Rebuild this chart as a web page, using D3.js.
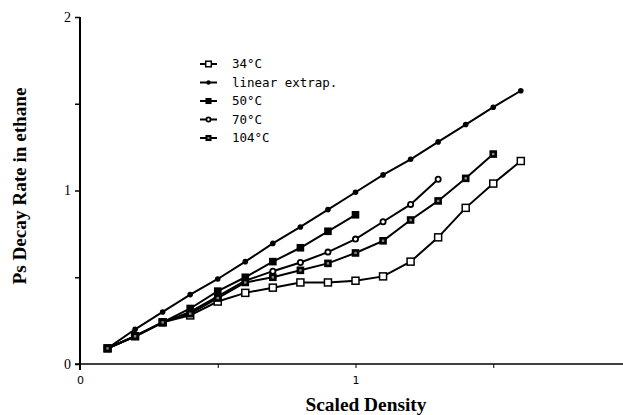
<!DOCTYPE html>
<html>
<head>
<meta charset="utf-8">
<script src="https://cdn.jsdelivr.net/npm/d3@7"></script>
<style>
  body { margin: 0; background: #fff; }
  svg { display: block; }
</style>
</head>
<body>
<svg id="chart"></svg>
<script>
const density = [0.1, 0.2, 0.3, 0.4, 0.5, 0.6, 0.7, 0.8, 0.9, 1.0, 1.1, 1.2, 1.3, 1.4, 1.5, 1.6];

const t34 = [0.09, 0.16, 0.24, 0.28, 0.36, 0.41, 0.44, 0.47, 0.47, 0.48, 0.505, 0.59, 0.73, 0.90, 1.04, 1.17];
const linearExtrap = [0.09, 0.20, 0.30, 0.40, 0.49, 0.59, 0.695, 0.79, 0.89, 0.99, 1.09, 1.18, 1.28, 1.38, 1.48, 1.575];
const t50 = [0.09, 0.16, 0.24, 0.32, 0.42, 0.50, 0.59, 0.67, 0.765, 0.86];
const t70 = [0.09, 0.16, 0.24, 0.30, 0.39, 0.48, 0.535, 0.585, 0.645, 0.72, 0.82, 0.92, 1.065];
const t104 = [0.09, 0.16, 0.24, 0.29, 0.38, 0.47, 0.50, 0.54, 0.58, 0.64, 0.71, 0.83, 0.94, 1.07, 1.21];

const seriesNames = ["34°C", "linear extrap.", "50°C", "70°C", "104°C"];
const yTicks = [0, 1, 2];
const xTickLabels = [0, 1];

const series = [
    {name: seriesNames[0], values: t34, marker: "open"},
    {name: seriesNames[1], values: linearExtrap, marker: "dot"},
    {name: seriesNames[2], values: t50, marker: "square"},
    {name: seriesNames[3], values: t70, marker: "ring"},
    {name: seriesNames[4], values: t104, marker: "dotsquare"}
];

const width = 623, height = 415;

const svg = d3.select("#chart")
    .attr("width", width)
    .attr("height", height);

const x = d3.scaleLinear().domain([0, 2]).range([80, 631]);
const y = d3.scaleLinear().domain([0, 2]).range([364, 17]);

// axes
const xAxis = svg.append("g")
    .attr("transform", `translate(0,${y(0)})`)
    .call(d3.axisBottom(x).tickValues([0, 0.5, 1, 1.5]).tickSize(4).tickSizeOuter(0)
        .tickFormat(d => xTickLabels.includes(d) ? d : ""));
xAxis.select(".domain").attr("stroke-width", 1.5).attr("d", `M75,0H${width}`);
xAxis.selectAll("text")
    .attr("dy", "1.2em")
    .style("font-family", "DejaVu Sans, sans-serif")
    .style("font-size", "11px");

const yAxis = svg.append("g")
    .attr("transform", `translate(${x(0)},0)`)
    .call(d3.axisLeft(y).tickValues([0, 0.5, 1, 1.5, 2]).tickSize(5).tickSizeOuter(0)
        .tickFormat(d => yTicks.includes(d) ? d : ""));
yAxis.select(".domain").attr("stroke-width", 2).attr("d", `M0,${y(2)}V${y(0) + 6}`);
yAxis.selectAll("text")
    .attr("x", -9)
    .style("font-family", "Liberation Serif, serif")
    .style("font-size", "14px");
yAxis.selectAll(".tick line").attr("stroke-width", 1.5);

// lines
const line = d3.line()
    .x((d, i) => x(density[i]))
    .y(d => y(d));

svg.append("g").selectAll("path")
    .data(series)
    .enter().append("path")
    .attr("d", d => line(d.values))
    .attr("fill", "none")
    .attr("stroke", "#000")
    .attr("stroke-width", 2);

// s = marker scale (legend uses smaller ones)
function drawMarker(g, type, cx, cy, s) {
    if (type === "open") {
        g.append("rect").attr("x", cx - 3.5 * s).attr("y", cy - 3.5 * s).attr("width", 7 * s).attr("height", 7 * s)
            .attr("fill", "#fff").attr("stroke", "#000").attr("stroke-width", 1.5);
    } else if (type === "dot") {
        g.append("circle").attr("cx", cx).attr("cy", cy).attr("r", 2.8 * s).attr("fill", "#000");
    } else if (type === "square") {
        g.append("rect").attr("x", cx - 3.8 * s).attr("y", cy - 3.8 * s).attr("width", 7.6 * s).attr("height", 7.6 * s)
            .attr("fill", "#000");
    } else if (type === "ring") {
        g.append("circle").attr("cx", cx).attr("cy", cy).attr("r", 2.6 * s)
            .attr("fill", "#fff").attr("stroke", "#000").attr("stroke-width", 1.8);
    } else if (type === "dotsquare") {
        g.append("rect").attr("x", cx - 3.8 * s).attr("y", cy - 3.8 * s).attr("width", 7.6 * s).attr("height", 7.6 * s)
            .attr("fill", "#000");
        g.append("rect").attr("x", cx - 1.2 * s).attr("y", cy - 1.2 * s).attr("width", 2.4 * s).attr("height", 2.4 * s)
            .attr("fill", "#888");
    }
}

const markers = svg.append("g");
series.forEach(s => {
    s.values.forEach((v, i) => drawMarker(markers, s.marker, x(density[i]), y(v), 1));
});

// legend
const legend = svg.append("g");
series.forEach((s, i) => {
    const ly = 64 + i * 18.5;
    legend.append("line")
        .attr("x1", 200).attr("x2", 217).attr("y1", ly).attr("y2", ly)
        .attr("stroke", "#000").attr("stroke-width", 2);
    drawMarker(legend, s.marker, 208.5, ly, 0.8);
    legend.append("text")
        .attr("x", 232).attr("y", ly)
        .attr("dy", "0.35em")
        .style("font-family", "DejaVu Sans Mono, monospace")
        .style("font-size", "12.5px")
        .text(s.name);
});

// axis titles
svg.append("text")
    .attr("transform", "translate(26,186) rotate(-90)")
    .attr("text-anchor", "middle")
    .attr("textLength", 197)
    .attr("lengthAdjust", "spacingAndGlyphs")
    .style("font-family", "Liberation Serif, serif")
    .style("font-weight", "bold")
    .style("font-size", "18px")
    .text("Ps Decay Rate in ethane");

svg.append("text")
    .attr("x", 366)
    .attr("y", 411)
    .attr("text-anchor", "middle")
    .attr("textLength", 121)
    .attr("lengthAdjust", "spacingAndGlyphs")
    .style("font-family", "Liberation Serif, serif")
    .style("font-weight", "bold")
    .style("font-size", "18px")
    .text("Scaled Density");
</script>
</body>
</html>
